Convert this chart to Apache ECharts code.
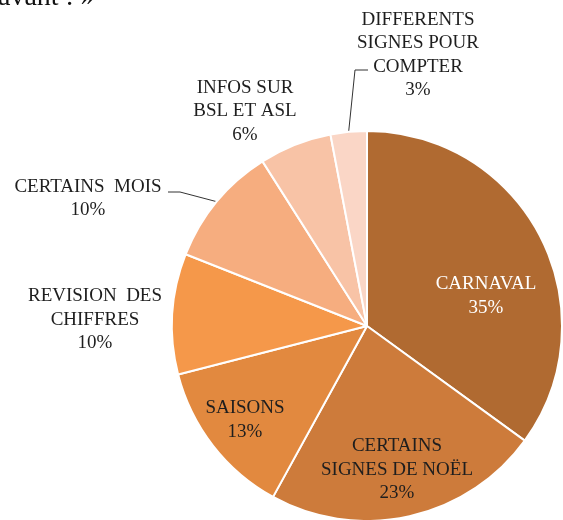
<!DOCTYPE html>
<html>
<head>
<meta charset="utf-8">
<script src="https://cdn.jsdelivr.net/npm/echarts@6/dist/echarts.min.js"></script>
<style>
  html, body { margin: 0; padding: 0; background: #ffffff; }
  #chart { width: 563px; height: 520px; }
</style>
</head>
<body>
<div id="chart"></div>
<script>
// Category names (line breaks as printed) and their shares in percent
const categories = [
  'CARNAVAL',
  'CERTAINS\nSIGNES DE NOËL',
  'SAISONS',
  'REVISION  DES\nCHIFFRES',
  'CERTAINS  MOIS',
  'INFOS SUR\nBSL ET ASL',
  'DIFFERENTS\nSIGNES POUR\nCOMPTER'
];
const shares = [35, 23, 13, 10, 10, 6, 3];

// Slice fills, darkest first
const sliceColors = ['#B06A31', '#CD7B3B', '#E2893F', '#F5984A', '#F6AD7F', '#F8C3A6', '#FAD6C6'];
const labelColors = ['#ffffff', '#1e1e1e', '#1e1e1e', '#1e1e1e', '#1e1e1e', '#1e1e1e', '#1e1e1e'];
const showLeader = [false, false, false, false, true, false, true];

// Where each label block is centred, and the bent part of the leader lines
const labelAnchors = [
  [486, 296], [397, 470], [245, 420], [95, 320], [88, 198.5], [245, 111.5], [418, 55]
];
const leaderTails = {
  4: [[180, 192], [168, 192]],
  6: [[355, 70], [368, 70]]
};

const chart = echarts.init(document.getElementById('chart'), null, { renderer: 'canvas' });

const pieData = categories.map((name, i) => ({
  name: name,
  value: shares[i],
  itemStyle: { color: sliceColors[i] },
  label: { color: labelColors[i] },
  labelLine: { show: showLeader[i] }
}));

chart.setOption({
  backgroundColor: '#ffffff',
  animation: false,
  graphic: [{
    type: 'text',
    left: -2,
    top: -16,
    style: {
      text: 'avant : »',
      font: '28px "Liberation Serif"',
      fill: '#111111'
    }
  }],
  series: [{
    type: 'pie',
    center: [367, 326],
    radius: [0, 195],
    startAngle: 90,
    clockwise: true,
    avoidLabelOverlap: false,
    itemStyle: { borderColor: '#ffffff', borderWidth: 2 },
    label: {
      show: true,
      position: 'outside',
      formatter: (p) => p.name + '\n' + p.value + '%',
      fontFamily: '"Liberation Serif", "Times New Roman", serif',
      fontSize: 19,
      lineHeight: 23.5,
      align: 'center'
    },
    labelLine: {
      length: 10,
      length2: 10,
      lineStyle: { color: '#333333', width: 1 }
    },
    labelLayout: (params) => {
      const i = params.dataIndex;
      const a = labelAnchors[i];
      const out = { x: a[0], y: a[1], align: 'center', verticalAlign: 'middle' };
      if (leaderTails[i] && params.labelLinePoints) {
        out.labelLinePoints = [params.labelLinePoints[0]].concat(leaderTails[i]);
      }
      return out;
    },
    data: pieData
  }]
});
</script>
</body>
</html>
